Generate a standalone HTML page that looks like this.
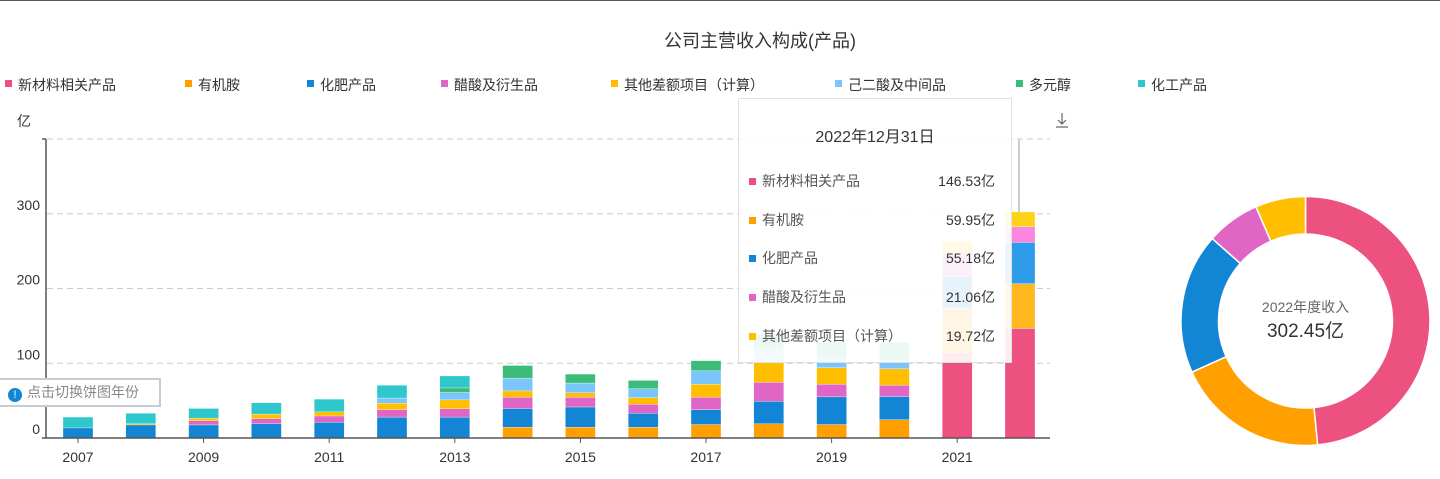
<!DOCTYPE html>
<html><head><meta charset="utf-8">
<style>
body{margin:0;width:1440px;height:478px;overflow:hidden;background:#fff;font-family:"Liberation Sans","Noto Sans CJK SC",sans-serif;}
#wrap{position:relative;width:1440px;height:478px;border-top:1px solid #555;box-sizing:border-box;}
svg text{font-family:"Liberation Sans","Noto Sans CJK SC",sans-serif;}
#tip{position:absolute;left:738px;top:97px;width:274px;height:265px;background:rgba(255,255,255,0.9);border:1px solid #e2e2e2;box-sizing:border-box;color:#333;font-size:14px;}
#tip .t{text-align:center;font-size:16px;margin-top:24px;}
#tip .r{position:absolute;left:10px;right:16px;height:20px;color:#555;}
#tip .r i{display:inline-block;width:7px;height:7px;margin-right:6px;vertical-align:1px;}
#tip .r b{font-weight:normal;float:right;color:#333;}
#btn{position:absolute;left:-2px;top:377px;width:163px;height:29px;border:2px solid #c8ccd2;box-sizing:border-box;background:#fff;color:#888;font-size:14px;line-height:25px;padding-left:8px;}
#btn span{display:inline-block;width:14px;height:14px;border-radius:50%;background:#1385d5;color:#fff;font-size:11px;line-height:14px;text-align:center;margin-right:5px;vertical-align:-1px;}
</style></head><body>
<div id="wrap">
<svg id="svg" width="1440" height="478" style="position:absolute;left:0;top:0"></svg>
<div id="btn"><span>!</span>点击切换饼图年份</div>
<div id="tip">
<div class="t">2022年12月31日</div>
<div class="r" style="top:72px"><i style="background:#ec5180"></i>新材料相关产品<b>146.53亿</b></div>
<div class="r" style="top:111px"><i style="background:#ffa000"></i>有机胺<b>59.95亿</b></div>
<div class="r" style="top:149px"><i style="background:#1385d5"></i>化肥产品<b>55.18亿</b></div>
<div class="r" style="top:188px"><i style="background:#e066c6"></i>醋酸及衍生品<b>21.06亿</b></div>
<div class="r" style="top:227px"><i style="background:#ffbf00"></i>其他差额项目（计算）<b>19.72亿</b></div>
</div>
</div>
<script>
const years=[2007,2008,2009,2010,2011,2012,2013,2014,2015,2016,2017,2018,2019,2020,2021,2022];
const seriesNames=["新材料相关产品","有机胺","化肥产品","醋酸及衍生品","其他差额项目（计算）","己二酸及中间品","多元醇","化工产品"];
const newMaterial=[0,0,0,0,0,0,0,0,0,0,0,0,0,0,114,146.53];
const organicAmine=[0,0,0,0,0,0,0,14.5,14.5,14.5,18,19,18,24.5,60,59.95];
const fertilizer=[13.5,17.5,17.5,19,21,28,28,25,27,18.5,20,30,37,31,42,55.18];
const aceticAcid=[0,0,5.5,7,8.5,10,11,15,13,12,16.5,25.5,17,15,31,21.06];
const otherDiff=[0,1.5,3.5,6,5.5,8.5,12,8.5,6,9,17.5,26,22,22,16,19.72];
const adipicAcid=[0,0,0,0,0,7,10,17,13,12,18,18,14,11,0,0];
const polyol=[0,0,0,0,0,0,6,17,12,11,13.5,20,20,24.5,0,0];
const chemical=[14.5,14,13,15,17,17,16,0,0,0,0,0,0,0,0,0];
const yTicks=[0,100,200,300,400];
const xTickLabels=["2007","2009","2011","2013","2015","2017","2019","2021"];
const pieValues=[146.53,59.95,55.18,21.06,19.72];
const colors=["#ec5180","#ffa000","#1385d5","#e066c6","#ffbf00","#7ac5fc","#3dbb78","#2ec7cc"];
const hoverColors=["#ec5180","#ffb820","#2d9be8","#fa86e0","#ffd21a","#8fd0ff","#55cc8a","#45d4d8"];
const NS="http://www.w3.org/2000/svg";
const svg=document.getElementById('svg');
function el(t,a,p){const e=document.createElementNS(NS,t);for(const k in a)e.setAttribute(k,a[k]);(p||svg).appendChild(e);return e;}
const x0=78,dx=62.8,yBase=437,yScale=74.75/100;
const X=i=>x0+i*dx, Y=v=>yBase-v*yScale;
let t=el('text',{x:760,y:46,'text-anchor':'middle','font-size':18,fill:'#333'});t.textContent="公司主营收入构成(产品)";


const lx=[5,185,307,441,611,835,1016,1138];
seriesNames.forEach((n,i)=>{const g=el('g',{});


el('rect',{x:lx[i],y:79,width:7,height:7,fill:colors[i]},g);
const tx=el('text',{x:lx[i]+13,y:89,'font-size':14,fill:'#333'},g);tx.textContent=n;});
let yu=el('text',{x:17,y:125,'font-size':14,fill:'#333'});yu.textContent="亿";


yTicks.forEach(v=>{const gl=el('line',{x1:47,x2:1050,y1:Y(v),y2:Y(v),stroke:'#ccc','stroke-dasharray':'6,4'});


if(v<400){const tl=el('text',{x:40,y:Y(v)-4,'text-anchor':'end','font-size':14,fill:'#333'});tl.textContent=v;

}});
el('line',{x1:46,x2:46,y1:Y(400),y2:yBase,stroke:'#555','stroke-width':1.5});
el('line',{x1:42,x2:46,y1:Y(400),y2:Y(400),stroke:'#555','stroke-width':1.5});
el('line',{x1:X(15)-1,x2:X(15)-1,y1:Y(400),y2:yBase,stroke:'#ccc','stroke-width':2});
const series=[newMaterial,organicAmine,fertilizer,aceticAcid,otherDiff,adipicAcid,polyol,chemical];
years.forEach((yr,i)=>{let acc=0;const last=i===years.length-1;
series.forEach((s,k)=>{const v=s[i];if(!v)return;
const r=el('rect',{x:X(i)-15,y:Y(acc+v),width:30,height:v*yScale,fill:last?hoverColors[k]:colors[k],stroke:'#fff','stroke-width':0.3});


acc+=v;});});
el('line',{x1:42,x2:1050,y1:yBase,y2:yBase,stroke:'#555','stroke-width':1.5});
xTickLabels.forEach(l=>{const i=years.indexOf(+l);
el('line',{x1:X(i),x2:X(i),y1:yBase,y2:yBase+5,stroke:'#555'});
const tl=el('text',{x:X(i),y:461,'text-anchor':'middle','font-size':14,fill:'#333'});tl.textContent=l;

});
const dl=el('g',{stroke:'#666','stroke-width':1.2,fill:'none'});


el('path',{d:'M1062 112 V123 M1058 119 L1062 123 L1066 119 M1056 126 H1068'},dl);
const cx=1305.5,cy=320,R=124.5,r0=87;
const tot=pieValues.reduce((a,b)=>a+b,0);let a0=-Math.PI/2;
pieValues.forEach((v,i)=>{const a1=a0+v/tot*2*Math.PI;const lg=(a1-a0)>Math.PI?1:0;
const p=(r,a)=>[cx+r*Math.cos(a),cy+r*Math.sin(a)];
const [x1,y1]=p(R,a0),[x2,y2]=p(R,a1),[x3,y3]=p(r0,a1),[x4,y4]=p(r0,a0);
const path=el('path',{d:`M${x1} ${y1} A${R} ${R} 0 ${lg} 1 ${x2} ${y2} L${x3} ${y3} A${r0} ${r0} 0 ${lg} 0 ${x4} ${y4} Z`,fill:colors[i],stroke:'#fff','stroke-width':1.5});


a0=a1;});
let c1=el('text',{x:cx,y:311,'text-anchor':'middle','font-size':14,fill:'#666'});c1.textContent="2022年度收入";


let c2=el('text',{x:cx,y:336,'text-anchor':'middle','font-size':19,fill:'#333'});c2.textContent="302.45亿";


</script>
</body></html>
